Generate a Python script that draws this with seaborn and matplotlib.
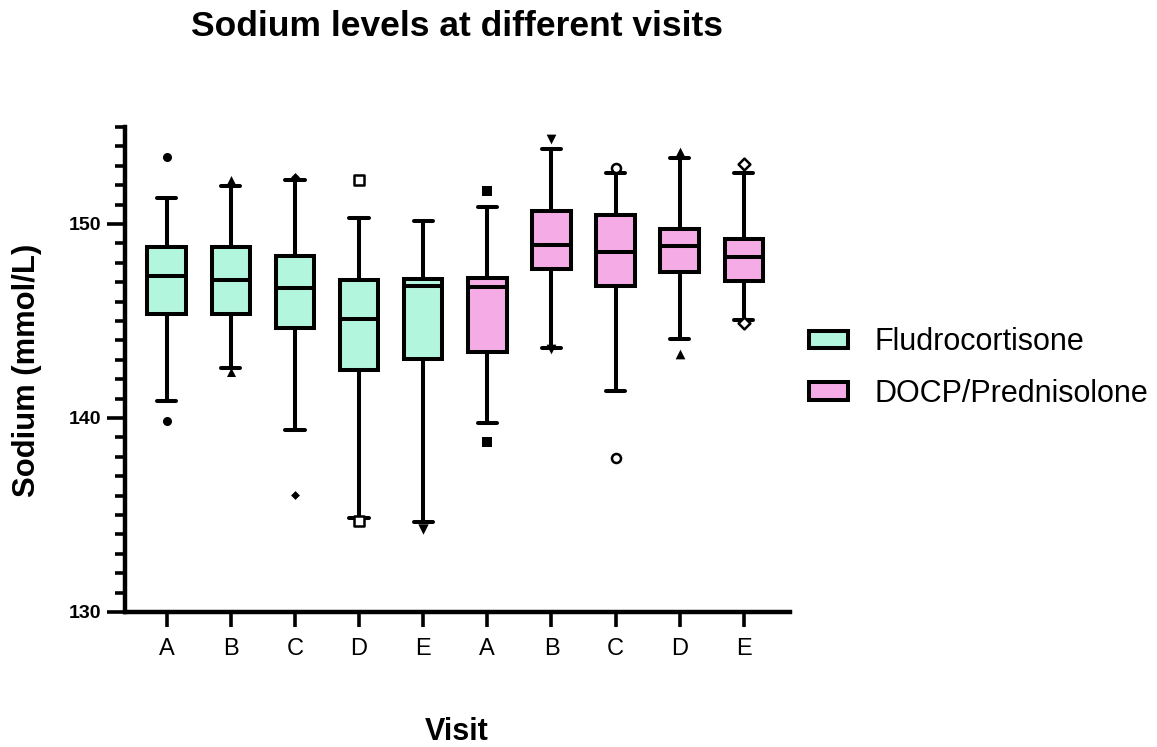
import numpy as np
import pandas as pd
import matplotlib
matplotlib.use("Agg")
import matplotlib.pyplot as plt
import seaborn as sns
from matplotlib.patches import Patch
from matplotlib.ticker import MultipleLocator

# --- data -------------------------------------------------------------
treatments = ["Fludrocortisone", "DOCP/Prednisolone"]
visits = ["A", "B", "C", "D", "E"]

# box summaries per treatment/visit (Fludrocortisone A-E, then DOCP/Prednisolone A-E)
whisker_low = [140.9, 142.56, 139.36, 134.83, 134.62, 139.75, 143.63, 141.38, 144.09, 145.05]
q1 = [145.35, 145.35, 144.66, 142.47, 143.06, 143.42, 147.68, 146.81, 147.50, 147.07]
median = [147.33, 147.12, 146.69, 145.09, 146.80, 146.73, 148.93, 148.57, 148.88, 148.28]
q3 = [148.80, 148.80, 148.37, 147.11, 147.15, 147.21, 150.69, 150.47, 149.75, 149.23]
whisker_high = [151.35, 151.96, 152.25, 150.30, 150.18, 150.87, 153.85, 152.63, 153.40, 152.63]

# individual points outside the whiskers
outliers = [
    [153.45, 139.87],
    [152.25, 142.39],
    [152.40, 136.03],
    [152.28, 134.71],
    [134.30],
    [151.70, 138.76],
    [154.40, 143.54],
    [152.89, 137.94],
    [153.70, 143.32],
    [153.07, 144.92],
]
point_markers = ["o", "^", "D", "s", "v", "s", "v", "o", "^", "D"]
point_open = [False, False, False, True, False, False, False, True, False, True]
point_sizes = [6.5, 6.5, 4.5, 6.5, 7.5, 6.5, 7, 6.5, 7, 6]

colors = {"Fludrocortisone": "#B3F6DE", "DOCP/Prednisolone": "#F5ACE6"}

# --- long-form table: five summary values per box --------------------
slots = [f"{t}|{v}" for t in treatments for v in visits]
rows = []
for i, slot in enumerate(slots):
    t = slot.split("|")[0]
    for val in (whisker_low[i], q1[i], median[i], q3[i], whisker_high[i]):
        rows.append({"slot": slot, "treatment": t, "sodium": val})
df = pd.DataFrame(rows)

# --- figure -----------------------------------------------------------
sns.set_theme(style="ticks")
plt.rcParams["font.family"] = ["Liberation Sans", "DejaVu Sans"]
plt.rcParams["text.color"] = "black"
plt.rcParams["xtick.color"] = "black"
plt.rcParams["ytick.color"] = "black"

fig = plt.figure(figsize=(11.57, 7.47), dpi=100)
ax = fig.add_axes([125 / 1157, (747 - 612) / 747, (790 - 125) / 1157, (612 - 127) / 747])

lw = 2.9
sns.boxplot(
    data=df, x="slot", y="sodium", hue="treatment",
    order=slots, hue_order=treatments, palette=colors, saturation=1,
    dodge=False, width=0.6, whis=(0, 100), showfliers=False,
    linecolor="black", linewidth=lw, legend=False, ax=ax,
)

for i, slot in enumerate(slots):
    if not outliers[i]:
        continue
    face = "white" if point_open[i] else "black"
    sns.stripplot(
        x=[slot] * len(outliers[i]), y=outliers[i], order=slots,
        jitter=False, marker=point_markers[i], size=point_sizes[i],
        color=face, edgecolor="black", linewidth=1.8 if point_open[i] else 0,
        ax=ax, zorder=5,
    )

# axes styling
ax.set_xlim(-0.65, 9.72)
ax.set_ylim(130, 155)
ax.set_xticks(range(len(slots)))
ax.set_xticklabels(visits * 2, fontsize=17, color="black")
ax.yaxis.set_major_locator(MultipleLocator(10))
ax.yaxis.set_minor_locator(MultipleLocator(1))
ax.set_yticks([130, 140, 150])
ax.set_yticklabels(["130", "140", "150"], fontsize=14, fontweight="bold", color="black")
ax.tick_params(axis="y", which="major", length=13, width=2.6, pad=4, color="black")
ax.tick_params(axis="y", which="minor", length=7, width=2.6, color="black")
ax.tick_params(axis="x", which="major", length=11, width=2.6, pad=8, color="black")
ax.set_xlabel("")
ax.set_ylabel("")
for side in ("top", "right"):
    ax.spines[side].set_visible(False)
for side in ("left", "bottom"):
    ax.spines[side].set_linewidth(3.2)
    ax.spines[side].set_color("black")
ax.grid(False)

# titles
fig.text(457 / 1157, 1 - 27 / 747, "Sodium levels at different visits",
         ha="center", va="center", fontsize=25.5, fontweight="bold", color="black")
fig.text(27 / 1157, 1 - 370 / 747, "Sodium (mmol/L)", rotation=90,
         ha="center", va="center", fontsize=22.3, fontweight="bold", color="black")
fig.text(457 / 1157, 1 - 732 / 747, "Visit",
         ha="center", va="center", fontsize=22, fontweight="bold", color="black")

# legend
handles = [Patch(facecolor=colors[t], edgecolor="black", linewidth=2.9, label=t)
           for t in treatments]
fig.legend(handles=handles, loc="center left",
           bbox_to_anchor=(781 / 1157, 1 - 368 / 747), frameon=False,
           fontsize=22, handlelength=1.3, handleheight=0.5,
           handletextpad=0.85, labelspacing=0.7)

fig.savefig("out.png", dpi=100)
